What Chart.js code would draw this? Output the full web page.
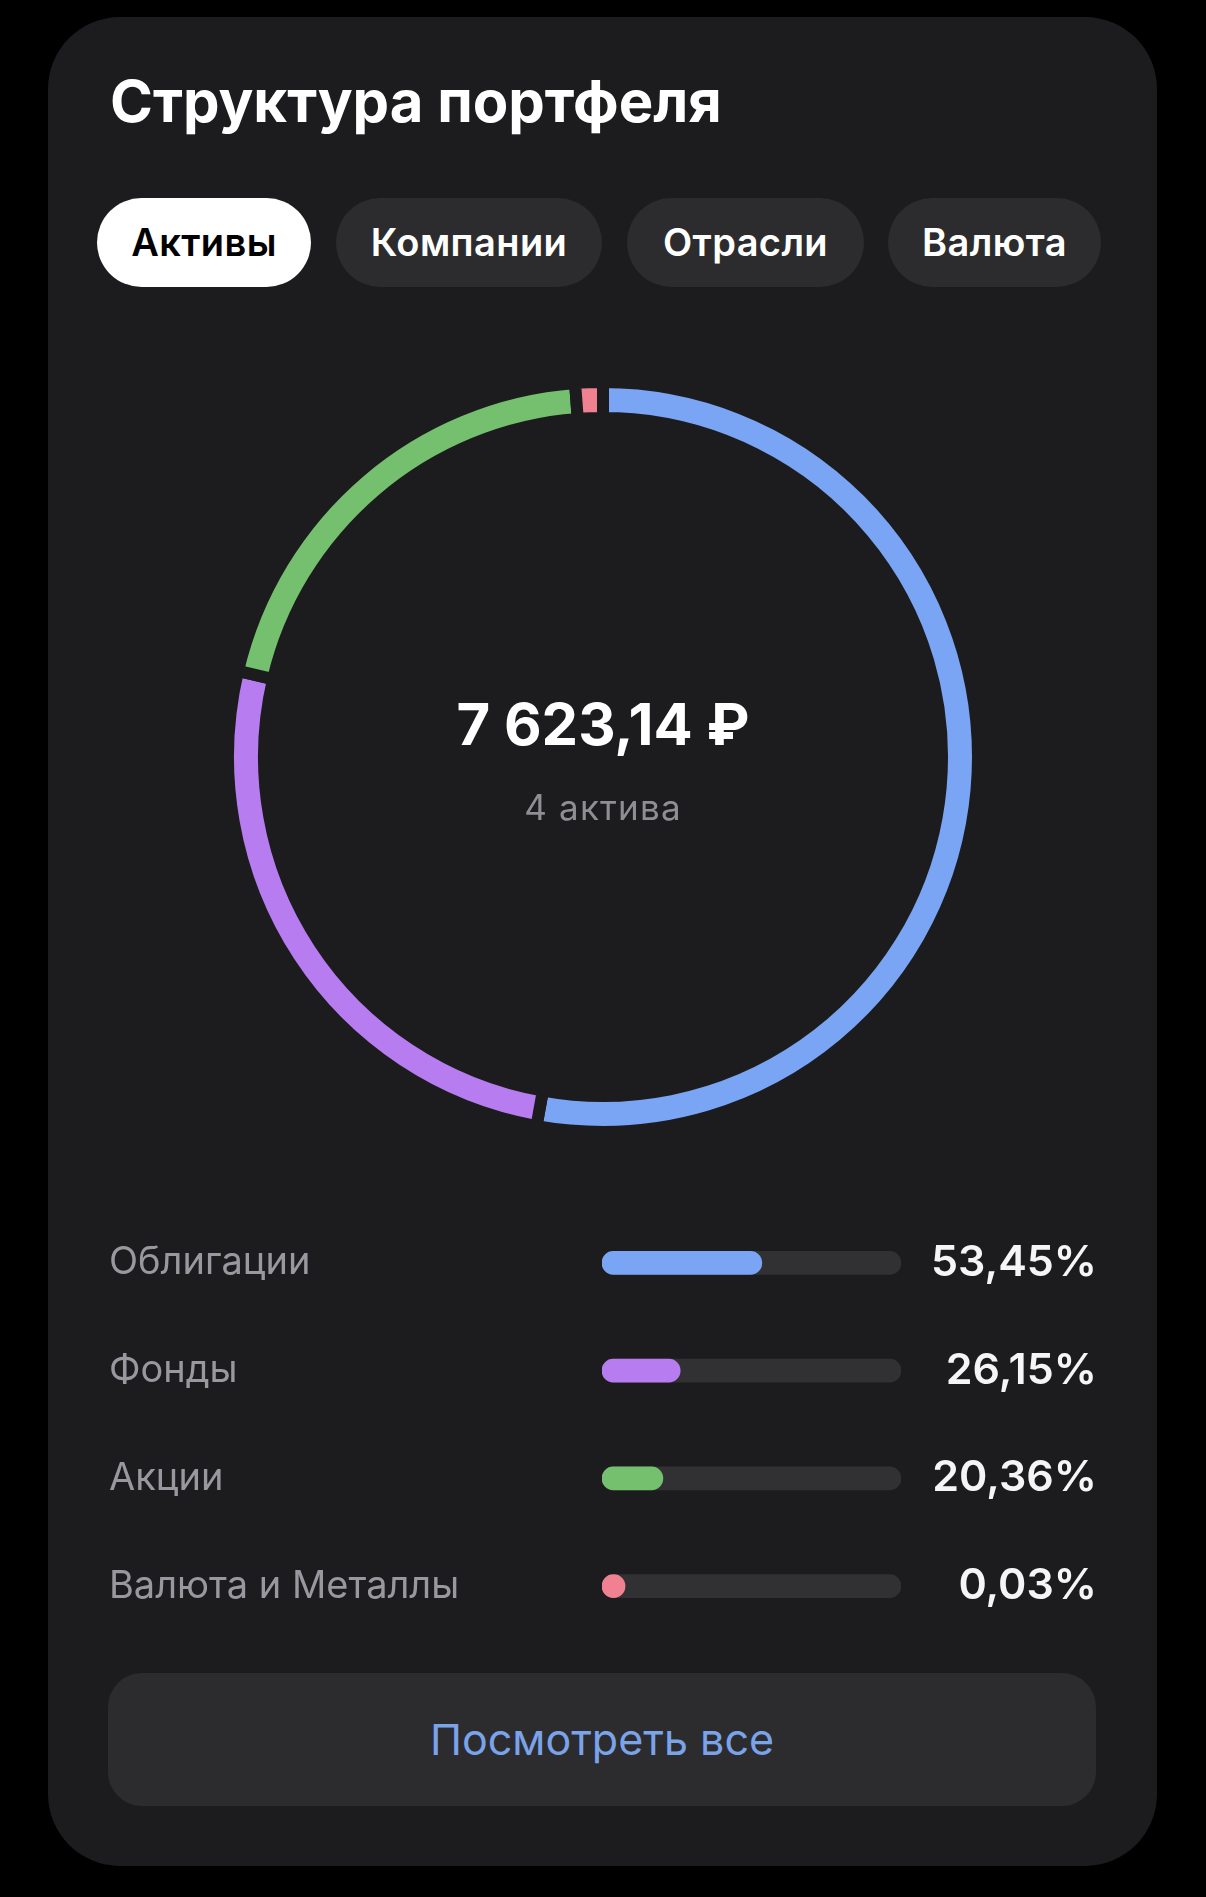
<!DOCTYPE html>
<html lang="ru">
<head>
<meta charset="utf-8">
<title>Структура портфеля</title>
<script src="https://cdn.jsdelivr.net/npm/chart.js@4.4.1/dist/chart.umd.min.js"></script>
<style>
  html, body { margin: 0; padding: 0; background: #000; }
  body { width: 1206px; height: 1897px; position: relative; overflow: hidden; font-family: Inter, "Noto Sans", sans-serif; }
  .card { position: absolute; left: 48px; top: 17px; width: 1109px; height: 1849px; background: #1c1c1e; border-radius: 72px; }
  .title { position: absolute; left: 110px; top: 72px; font-size: 58px; line-height: 58px; font-weight: 700; color: #fff; }
  .tab { position: absolute; top: 198px; height: 89px; line-height: 89px; border-radius: 45px; background: #2c2c2e; color: #fff;
         font-size: 38px; font-weight: 600; text-align: center; letter-spacing: 0.4px; }
  .tab.active { background: #fff; color: #000; }
  #donutBox { position: absolute; left: 222px; top: 376px; width: 762px; height: 762px; }
  .total { position: absolute; left: 0; width: 1206px; top: 695px; text-align: center; font-size: 58px; line-height: 58px; font-weight: 700; color: #fff; }
  .count { position: absolute; left: 0; width: 1206px; top: 790px; text-align: center; font-size: 35px; line-height: 35px; color: #8e8e93; letter-spacing: 1.2px; }
  #barsBox { position: absolute; left: 109px; top: 1209px; width: 988px; height: 431px; }
  .more { position: absolute; left: 108px; top: 1673px; width: 988px; height: 133px; line-height: 133px; border-radius: 34px; background: #2c2c2e;
          color: #7aa3ea; font-size: 43px; text-align: center; }
</style>
</head>
<body>
<div class="card"></div>
<div class="title">Структура портфеля</div>
<div class="tab active" style="left:97px;width:214px">Активы</div>
<div class="tab" style="left:336px;width:266px">Компании</div>
<div class="tab" style="left:627px;width:237px">Отрасли</div>
<div class="tab" style="left:888px;width:213px">Валюта</div>

<div id="donutBox"><canvas id="donut" width="762" height="762"></canvas></div>
<div class="total">7 623,14 ₽</div>
<div class="count">4 актива</div>

<div id="barsBox"><canvas id="bars" width="988" height="431"></canvas></div>
<div class="more">Посмотреть все</div>

<script>
// portfolio structure, share of each asset class in %
const categories = ["Облигации", "Фонды", "Акции", "Валюта и Металлы"];
const shares = [53.45, 26.15, 20.36, 0.03];
const shareLabels = ["53,45%", "26,15%", "20,36%", "0,03%"];
const colors = ["#79a5f4", "#b67cf0", "#75c06e", "#ef8191"];

// tiny slices still get a visible piece, like in the app
const minSlice = 1.2;
const minBar = 7.7;
const cardBg = "#1c1c1e";

new Chart(document.getElementById("donut"), {
  type: "doughnut",
  data: {
    labels: categories,
    datasets: [{
      data: shares.map(v => Math.max(v, minSlice)),
      backgroundColor: colors,
      borderColor: cardBg,
      borderWidth: 12,
      hoverBorderWidth: 12,
      hoverOffset: 0,
      offset: 0
    }]
  },
  options: {
    responsive: false,
    animation: false,
    cutout: 339,
    rotation: 0,
    layout: { padding: 0 },
    plugins: {
      legend: { display: false },
      tooltip: {
        callbacks: {
          label: (ctx) => `${categories[ctx.dataIndex]}: ${shareLabels[ctx.dataIndex]}`
        }
      }
    }
  }
});

// no extra room above/below for the tick labels
const noPad = (s, w) => { s.width = w; s.paddingTop = 0; s.paddingBottom = 0; };

new Chart(document.getElementById("bars"), {
  type: "bar",
  data: {
    labels: categories,
    datasets: [
      {
        data: shares.map(v => Math.max(v, minBar)),
        backgroundColor: colors,
        barThickness: 23,
        borderRadius: 12,
        borderSkipped: false,
        grouped: false,
        order: 0
      },
      {
        // grey track behind each bar
        data: categories.map(() => 100),
        backgroundColor: "#313133",
        barThickness: 23,
        borderRadius: 12,
        borderSkipped: false,
        grouped: false,
        order: 1
      }
    ]
  },
  options: {
    indexAxis: "y",
    responsive: false,
    animation: false,
    layout: { padding: 0 },
    plugins: { legend: { display: false }, tooltip: { enabled: false } },
    scales: {
      x: { min: 0, max: 100, display: false },
      y: {
        position: "left",
        grid: { display: false },
        border: { display: false },
        ticks: {
          crossAlign: "far",
          color: "#98989e",
          font: { family: "Inter", size: 38, weight: "400" }
        },
        afterFit: (s) => noPad(s, 493)
      },
      y2: {
        type: "category",
        position: "right",
        labels: shareLabels,
        offset: true,
        grid: { display: false },
        border: { display: false },
        ticks: {
          crossAlign: "far",
          color: "#f5f5f7",
          font: { family: "Inter", size: 43, weight: "600" }
        },
        afterFit: (s) => noPad(s, 196)
      }
    }
  }
});
</script>
</body>
</html>
